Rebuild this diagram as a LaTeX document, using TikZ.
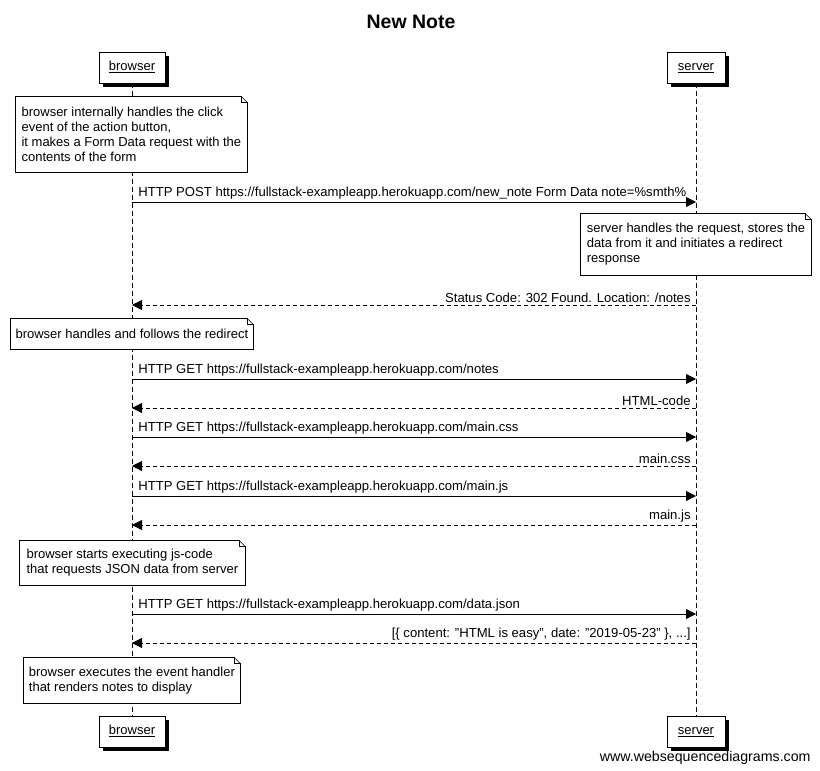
\documentclass[tikz,border=0pt]{standalone}
\usepackage{fontspec}
\setmainfont{Liberation Sans}
\usetikzlibrary{arrows.meta,shadows}

\begin{document}
\begin{tikzpicture}[x=1pt,y=-1pt,>={Triangle[length=10pt,width=10pt]},line width=0.8pt,
    actor/.style={draw,fill=white,minimum height=31pt,text height=9.5pt,text depth=3pt,font=\fontsize{13}{15}\selectfont,
        drop shadow={shadow xshift=4pt,shadow yshift=-4pt,fill=black,opacity=1}},
    note/.style={draw,fill=white,anchor=north west,align=left,inner sep=0pt,font=\fontsize{13}{15}\selectfont},
    msg/.style={->},
    reply/.style={->,dash pattern=on 4pt off 3pt},
    life/.style={dash pattern=on 5pt off 3pt},
    req label/.style={pos=0,anchor=south west,inner sep=2pt,xshift=4pt,font=\fontsize{13.1}{15}\selectfont},
    rep label/.style={pos=0,anchor=south east,inner sep=2pt,xshift=-3pt,font=\fontsize{13.1}{15}\selectfont}]

    \useasboundingbox (0,0) rectangle (820,771);

    \node[font=\fontsize{19.5}{22}\selectfont\bfseries] (title) at (411,22) {New Note};

    % participants
    \node[actor, minimum width=66pt] (btop) at (132,67.5) {\underline{browser}};
    \node[actor, minimum width=58pt] (stop) at (696,67.5) {\underline{server}};
    \node[actor, minimum width=66pt] (bbot) at (132,731.5) {\underline{browser}};
    \node[actor, minimum width=58pt] (sbot) at (696,731.5) {\underline{server}};

    \draw[life] (btop.south) -- (bbot.north);
    \draw[life] (stop.south) -- (sbot.north);

    % notes
    \node[note, minimum width=232pt, minimum height=76pt] (n1) at (15,96)
        {browser internally handles the click\\event of the action button,\\it makes a Form Data request with the\\contents of the form};
    \node[note, minimum width=231pt, minimum height=62pt] (n2) at (580,213)
        {server handles the request, stores the\\data from it and initiates a redirect\\response};
    \node[note, minimum width=243pt, minimum height=31pt] (n3) at (10,318)
        {browser handles and follows the redirect};
    \node[note, minimum width=226pt, minimum height=45pt] (n4) at (19,540)
        {browser starts executing js-code\\that requests JSON data from server};
    \node[note, minimum width=217pt, minimum height=46pt] (n5) at (23,657)
        {browser executes the event handler\\that renders notes to display};

    % folded corners
    \foreach \n in {n1,n2,n3,n4,n5} {
        \fill[white] ([xshift=-7pt]\n.north east) -- ([xshift=0.5pt,yshift=0.5pt]\n.north east) -- ([yshift=-7pt]\n.north east) -- cycle;
        \draw[line width=0.6pt] ([xshift=-7pt]\n.north east) -- ([yshift=-7pt]\n.north east);
        \draw[line width=0.6pt] ([xshift=-7pt]\n.north east) -- ([xshift=-7pt,yshift=-6pt]\n.north east) -- ([yshift=-6pt]\n.north east);
    }

    % message points on the lifelines
    \coordinate (b1) at (132,202); \coordinate (s1) at (696,202);
    \coordinate (b2) at (132,305); \coordinate (s2) at (696,305);
    \coordinate (b3) at (132,379); \coordinate (s3) at (696,379);
    \coordinate (b4) at (132,408); \coordinate (s4) at (696,408);
    \coordinate (b5) at (132,437); \coordinate (s5) at (696,437);
    \coordinate (b6) at (132,466); \coordinate (s6) at (696,466);
    \coordinate (b7) at (132,496); \coordinate (s7) at (696,496);
    \coordinate (b8) at (132,525); \coordinate (s8) at (696,525);
    \coordinate (b9) at (132,614); \coordinate (s9) at (696,614);
    \coordinate (b10) at (132,643); \coordinate (s10) at (696,643);

    \draw[msg] (b1) -- node[req label] {HTTP POST https://fullstack-exampleapp.herokuapp.com/new\_note Form Data note=\%smth\%} (s1);
    \draw[reply] (s2) -- node[rep label] {Status Code: 302 Found. Location: /notes} (b2);
    \draw[msg] (b3) -- node[req label] {HTTP GET https://fullstack-exampleapp.herokuapp.com/notes} (s3);
    \draw[reply] (s4) -- node[rep label] {HTML-code} (b4);
    \draw[msg] (b5) -- node[req label] {HTTP GET https://fullstack-exampleapp.herokuapp.com/main.css} (s5);
    \draw[reply] (s6) -- node[rep label] {main.css} (b6);
    \draw[msg] (b7) -- node[req label] {HTTP GET https://fullstack-exampleapp.herokuapp.com/main.js} (s7);
    \draw[reply] (s8) -- node[rep label] {main.js} (b8);
    \draw[msg] (b9) -- node[req label] {HTTP GET https://fullstack-exampleapp.herokuapp.com/data.json} (s9);
    \draw[reply] (s10) -- node[rep label] {[\{ content: "HTML is easy", date: "2019-05-23" \}, ...]} (b10);

    \node[anchor=base east,inner sep=0pt,font=\fontsize{14.2}{16}\selectfont] (site) at (811,761) {www.websequencediagrams.com};
\end{tikzpicture}
\end{document}
